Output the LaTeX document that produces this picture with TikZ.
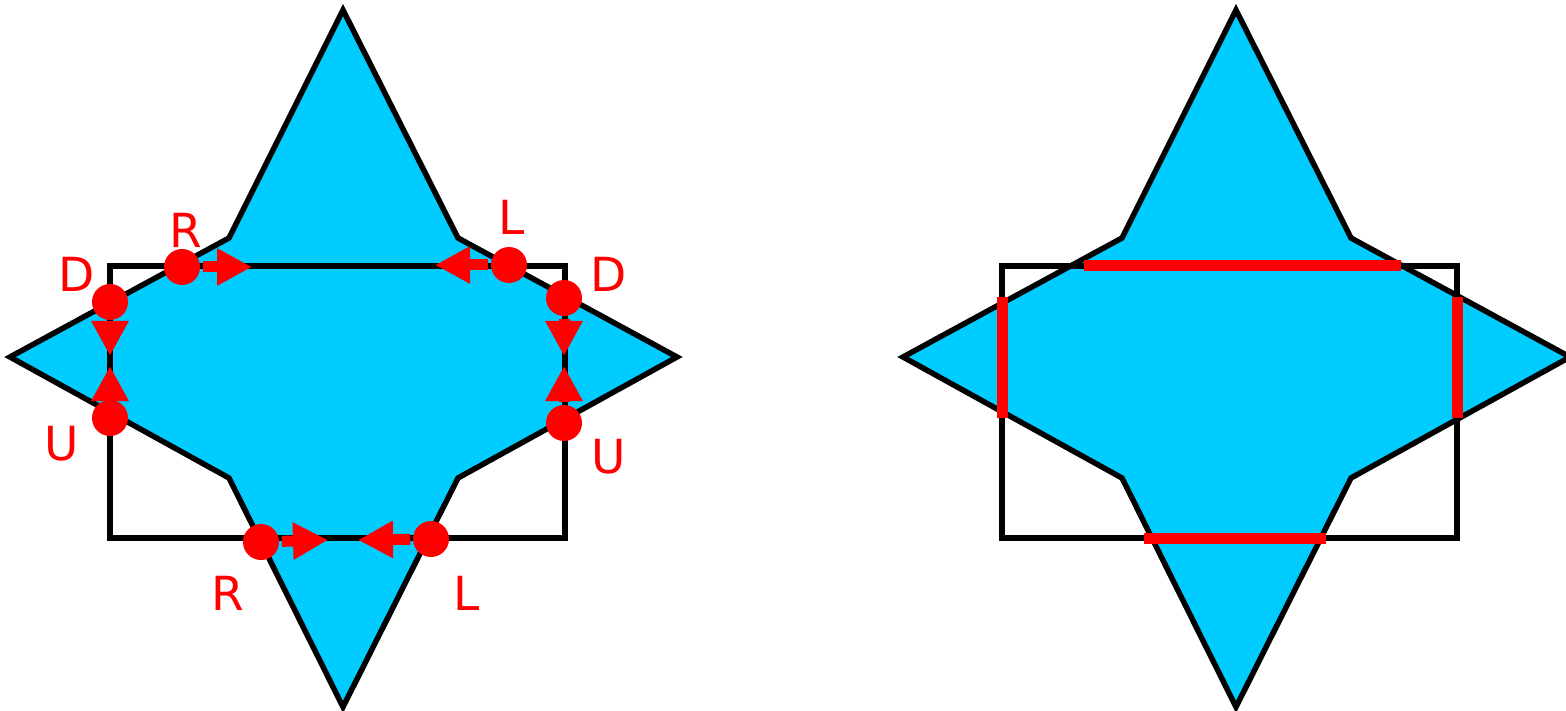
\documentclass[tikz,border=0pt]{standalone}
\usepackage{fontspec}
\setmainfont{DejaVu Sans}
\usetikzlibrary{arrows.meta}

\definecolor{starblue}{RGB}{0,204,255}
\definecolor{markred}{RGB}{255,0,0}

\begin{document}
\begin{tikzpicture}[x=1pt,y=-1pt,line width=5.5pt,>={Triangle[length=35pt,width=35pt]},
  star/.style={fill=starblue,draw=black,line width=5.5pt},
  frame/.style={draw=black,line width=5.5pt},
  dot/.style={circle,fill=markred,inner sep=0pt,minimum size=36pt},
  move/.style={->,draw=markred,fill=markred,line width=11pt},
  side/.style={draw=markred,line width=11pt},
  tag/.style={text=markred,anchor=base,inner sep=0pt,font=\fontsize{47}{50}\selectfont}]
\useasboundingbox (0,0) rectangle (1566,711);

% left picture: star and frame
\draw[star] (343,10) -- (458,238) -- (677,357) -- (458,478) -- (343,707) -- (229,478) -- (10,357) -- (229,238) -- cycle;
\draw[frame] (110,266) rectangle (565,538);

% moving points
\node[dot] (topR) at (182,267) {};
\node[dot] (topL) at (509,265) {};
\node[dot] (leftD) at (110,302) {};
\node[dot] (leftU) at (110,418) {};
\node[dot] (rightD) at (564,298) {};
\node[dot] (rightU) at (564,423) {};
\node[dot] (botR) at (261,542) {};
\node[dot] (botL) at (431,539) {};

\coordinate (topRtip) at (252,267);
\coordinate (topLtip) at (435,265);
\coordinate (leftDtip) at (110,356);
\coordinate (leftUtip) at (110,366);
\coordinate (rightDtip) at (564,356);
\coordinate (rightUtip) at (564,366);
\coordinate (botRtip) at (328,540);
\coordinate (botLtip) at (358,540);

\draw[move] (topR) -- (topRtip);
\draw[move] (topL) -- (topLtip);
\draw[move] (leftD) -- (leftDtip);
\draw[move] (leftU) -- (leftUtip);
\draw[move] (rightD) -- (rightDtip);
\draw[move] (rightU) -- (rightUtip);
\draw[move] (botR) -- (botRtip);
\draw[move] (botL) -- (botLtip);

% labels
\node[tag] (labTopR) at (186,248) {R};
\node[tag] (labTopL) at (512,235) {L};
\node[tag] (labLeftD) at (77,292) {D};
\node[tag] (labRightD) at (609,292) {D};
\node[tag] (labLeftU) at (62,460) {U};
\node[tag] (labRightU) at (609,473) {U};
\node[tag] (labBotR) at (228,610) {R};
\node[tag] (labBotL) at (467,610) {L};

% right picture: star and frame
\draw[star] (1236,10) -- (1351,238) -- (1570,357) -- (1351,478) -- (1236,707) -- (1122,478) -- (903,357) -- (1122,238) -- cycle;
\draw[frame] (1002,266) rectangle (1457,538);

% sides inside the star
\coordinate (sTa) at (1084,266);
\coordinate (sTb) at (1401,266);
\coordinate (sBa) at (1144,538);
\coordinate (sBb) at (1326,538);
\coordinate (sLa) at (1002,297);
\coordinate (sLb) at (1002,418);
\coordinate (sRa) at (1457,297);
\coordinate (sRb) at (1457,418);
\draw[side] (sTa) -- (sTb);
\draw[side] (sBa) -- (sBb);
\draw[side] (sLa) -- (sLb);
\draw[side] (sRa) -- (sRb);
\end{tikzpicture}
\end{document}
